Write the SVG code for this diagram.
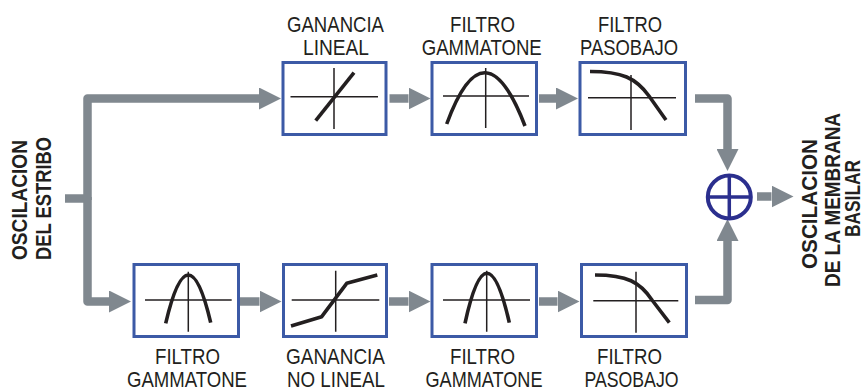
<svg xmlns="http://www.w3.org/2000/svg" width="864" height="392" viewBox="0 0 864 392">
  <style>
    .box { fill: #ffffff; stroke: #3c5aa6; stroke-width: 3; }
    .axis { fill: none; stroke: #231f20; stroke-width: 1.5; }
    .curve { fill: none; stroke: #231f20; stroke-width: 3.6; stroke-linejoin: round; }
    .flow { fill: none; stroke: #80888f; stroke-width: 8.5; stroke-linejoin: round; }
    .lbl { font-family: "Liberation Sans", Arial, sans-serif; font-size: 22.5px; fill: #231f20; text-anchor: middle; }
    .side { font-family: "Liberation Sans", Arial, sans-serif; font-size: 22px; font-weight: bold; fill: #231f20; text-anchor: middle; }
    .sum { fill: #ffffff; stroke: #2b2f8e; stroke-width: 4; }
    .sumx { stroke: #2b2f8e; stroke-width: 3.5; }
  </style>
  <defs>
    <marker id="head" viewBox="0 0 22 22" refX="0" refY="11" markerWidth="22" markerHeight="22" markerUnits="userSpaceOnUse" orient="auto">
      <path d="M0,0 L22,11 L0,22 z" fill="#80888f"/>
    </marker>
  </defs>

  <!-- connectors -->
  <g id="connectors">
    <path class="flow" d="M65,198.5 H87.5"/>
    <path class="flow" d="M87.5,200 V98.5 H259" marker-end="url(#head)"/>
    <path class="flow" d="M87.5,197 V301.5 H109" marker-end="url(#head)"/>
    <path class="flow" d="M389.5,98.5 H408.5" marker-end="url(#head)"/>
    <path class="flow" d="M539,98.5 H556" marker-end="url(#head)"/>
    <path class="flow" d="M695,98.5 H727.5 V149" marker-end="url(#head)"/>
    <path class="flow" d="M240,301.5 H259.5" marker-end="url(#head)"/>
    <path class="flow" d="M389,301.5 H408.5" marker-end="url(#head)"/>
    <path class="flow" d="M539,301.5 H557.5" marker-end="url(#head)"/>
    <path class="flow" d="M695,300 H727.5 V241" marker-end="url(#head)"/>
    <path class="flow" d="M757,196.5 H771.5" marker-end="url(#head)"/>
  </g>

  <!-- input label -->
  <g id="input">
    <text class="side" transform="translate(26.5,200) rotate(-90)" textLength="120" lengthAdjust="spacingAndGlyphs">OSCILACION</text>
    <text class="side" transform="translate(51,198.5) rotate(-90)" textLength="123" lengthAdjust="spacingAndGlyphs">DEL ESTRIBO</text>
  </g>

  <!-- upper branch -->
  <g id="gain-linear">
    <rect class="box" x="283" y="62.5" width="103" height="72"/>
    <path class="axis" d="M290.5,96.7 H378 M334,68 V129"/>
    <path class="curve" d="M315.7,120.7 L354,72.7"/>
    <text class="lbl" x="335.5" y="31.7" textLength="97" lengthAdjust="spacingAndGlyphs">GANANCIA</text>
    <text class="lbl" x="336" y="55" textLength="66" lengthAdjust="spacingAndGlyphs">LINEAL</text>
  </g>

  <g id="gammatone-upper">
    <rect class="box" x="432" y="62.5" width="104.5" height="72"/>
    <path class="axis" d="M443,96 H529 M485.7,68 V128"/>
    <path class="curve" d="M446.7,124 Q484.5,20.5 525,126"/>
    <text class="lbl" x="482.5" y="31.7" textLength="65" lengthAdjust="spacingAndGlyphs">FILTRO</text>
    <text class="lbl" x="481.7" y="55" textLength="120" lengthAdjust="spacingAndGlyphs">GAMMATONE</text>
  </g>

  <g id="lowpass-upper">
    <rect class="box" x="580" y="62.5" width="105.5" height="72"/>
    <path class="axis" d="M588,97.7 H676 M631,75 V130"/>
    <path class="curve" d="M590,71.5 C622,71.5 636,78 649,96 L666,120"/>
    <text class="lbl" x="630" y="31.7" textLength="64" lengthAdjust="spacingAndGlyphs">FILTRO</text>
    <text class="lbl" x="629" y="55" textLength="98" lengthAdjust="spacingAndGlyphs">PASOBAJO</text>
  </g>

  <!-- lower branch -->
  <g id="gammatone-lower-1">
    <rect class="box" x="134" y="264.5" width="104.5" height="72"/>
    <path class="axis" d="M145,300 H231.7 M188.3,271.7 V331.7"/>
    <path class="curve" d="M165.7,323.3 Q188.3,227 210.7,322.7"/>
    <text class="lbl" x="187.5" y="363.5" textLength="65" lengthAdjust="spacingAndGlyphs">FILTRO</text>
    <text class="lbl" x="187" y="387" textLength="120" lengthAdjust="spacingAndGlyphs">GAMMATONE</text>
  </g>

  <g id="gain-nonlinear">
    <rect class="box" x="283.5" y="264.5" width="103" height="72"/>
    <path class="axis" d="M291.7,300 H379.3 M335.7,270.7 V331.7"/>
    <path class="curve" d="M291,326 L321.7,316.7 L346.7,283.3 L377.3,275"/>
    <text class="lbl" x="335.5" y="363.5" textLength="99" lengthAdjust="spacingAndGlyphs">GANANCIA</text>
    <text class="lbl" x="336" y="387" textLength="98" lengthAdjust="spacingAndGlyphs">NO LINEAL</text>
  </g>

  <g id="gammatone-lower-2">
    <rect class="box" x="432" y="264.5" width="104.5" height="72"/>
    <path class="axis" d="M443,300 H530 M486.7,270.7 V331.7"/>
    <path class="curve" d="M465,323.3 Q486.7,223.6 509.3,322.7"/>
    <text class="lbl" x="482.5" y="363.5" textLength="65" lengthAdjust="spacingAndGlyphs">FILTRO</text>
    <text class="lbl" x="484" y="387" textLength="117" lengthAdjust="spacingAndGlyphs">GAMMATONE</text>
  </g>

  <g id="lowpass-lower">
    <rect class="box" x="581.5" y="264.5" width="105" height="72"/>
    <path class="axis" d="M593.3,300.7 H678.3 M636,271.7 V332.7"/>
    <path class="curve" d="M595,275 C627,275 640,282 652,300 L669.3,322.7"/>
    <text class="lbl" x="629.5" y="363.5" textLength="65" lengthAdjust="spacingAndGlyphs">FILTRO</text>
    <text class="lbl" x="631.5" y="387" textLength="94" lengthAdjust="spacingAndGlyphs">PASOBAJO</text>
  </g>

  <!-- summing junction -->
  <g id="sum">
    <circle class="sum" cx="729.3" cy="197" r="21.5"/>
    <path class="sumx" d="M729.3,175.5 V218.5 M707.8,197 H750.8"/>
  </g>

  <!-- output label -->
  <g id="output">
    <text class="side" transform="translate(816.5,204) rotate(-90)" textLength="130" lengthAdjust="spacingAndGlyphs">OSCILACION</text>
    <text class="side" transform="translate(839.5,200) rotate(-90)" textLength="174" lengthAdjust="spacingAndGlyphs">DE LA MEMBRANA</text>
    <text class="side" transform="translate(860,198.5) rotate(-90)" textLength="77" lengthAdjust="spacingAndGlyphs">BASILAR</text>
  </g>
</svg>
